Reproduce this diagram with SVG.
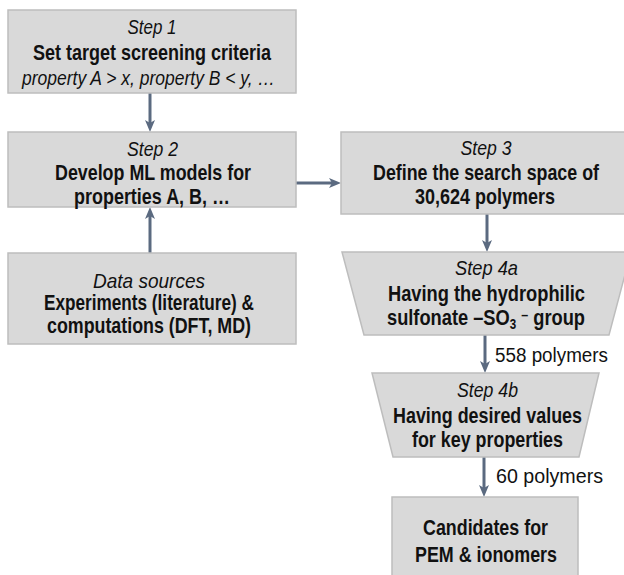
<svg xmlns="http://www.w3.org/2000/svg" width="624" height="575" viewBox="0 0 624 575">
  <defs>
    <style>
      .box { fill: #d9d9d9; stroke: #bdbdbd; stroke-width: 1.5; }
      .t { font-family: "Liberation Sans", Arial, sans-serif; fill: #111; text-anchor: middle; }
      .it { font-style: italic; font-size: 21px; }
      .b { font-weight: bold; font-size: 22px; }
      .lbl { font-family: "Liberation Sans", Arial, sans-serif; fill: #111; font-size: 20px; }
      .conn { stroke: #5b6a80; stroke-width: 3; fill: none; marker-end: url(#ah); }
    </style>
    <marker id="ah" viewBox="0 0 12 10" refX="4" refY="5" markerWidth="12" markerHeight="10" markerUnits="userSpaceOnUse" orient="auto">
      <path d="M0,0 L12,5 L0,10 L3,5 Z" fill="#5b6a80"/>
    </marker>
  </defs>

  <g id="connectors">
    <line class="conn" x1="150" y1="93" x2="150" y2="124"/>
    <line class="conn" x1="150" y1="253" x2="150" y2="215"/>
    <line class="conn" x1="296" y1="183" x2="333" y2="183"/>
    <line class="conn" x1="487" y1="214" x2="487" y2="244"/>
    <line class="conn" x1="485" y1="335" x2="485" y2="365"/>
    <line class="conn" x1="484" y1="457" x2="484" y2="489"/>
    <text class="lbl" x="495" y="361.5" textLength="113" lengthAdjust="spacingAndGlyphs">558 polymers</text>
    <text class="lbl" x="496" y="483" textLength="107" lengthAdjust="spacingAndGlyphs">60 polymers</text>
  </g>

  <g id="step1">
    <rect class="box" x="8" y="10" width="288" height="83"/>
    <text class="t it" x="152" y="34" textLength="49" lengthAdjust="spacingAndGlyphs">Step 1</text>
    <text class="t b" x="152" y="60" textLength="238" lengthAdjust="spacingAndGlyphs">Set target screening criteria</text>
    <text class="t it" x="148.5" y="85" textLength="253" lengthAdjust="spacingAndGlyphs">property A &gt; x, property B &lt; y, …</text>
  </g>

  <g id="step2">
    <rect class="box" x="8" y="132" width="288" height="75"/>
    <text class="t it" x="152.5" y="156" textLength="51" lengthAdjust="spacingAndGlyphs">Step 2</text>
    <text class="t b" x="153" y="180" textLength="196" lengthAdjust="spacingAndGlyphs">Develop ML models for</text>
    <text class="t b" x="152" y="204" textLength="156" lengthAdjust="spacingAndGlyphs">properties A, B, …</text>
  </g>

  <g id="data-sources">
    <rect class="box" x="8" y="253" width="288" height="91"/>
    <text class="t it" x="149" y="288" textLength="112" lengthAdjust="spacingAndGlyphs">Data sources</text>
    <text class="t b" x="149" y="310" textLength="210" lengthAdjust="spacingAndGlyphs">Experiments (literature) &amp;</text>
    <text class="t b" x="149" y="333" textLength="204" lengthAdjust="spacingAndGlyphs">computations (DFT, MD)</text>
  </g>

  <g id="step3">
    <rect class="box" x="341" y="132" width="292" height="82"/>
    <text class="t it" x="486" y="155" textLength="51" lengthAdjust="spacingAndGlyphs">Step 3</text>
    <text class="t b" x="486" y="180" textLength="226" lengthAdjust="spacingAndGlyphs">Define the search space of</text>
    <text class="t b" x="485" y="204" textLength="140" lengthAdjust="spacingAndGlyphs">30,624 polymers</text>
  </g>

  <g id="step4a">
    <polygon class="box" points="342,252 631,252 609,335 364,335"/>
    <text class="t it" x="486.5" y="275" textLength="63" lengthAdjust="spacingAndGlyphs">Step 4a</text>
    <text class="t b" x="486.5" y="301" textLength="197" lengthAdjust="spacingAndGlyphs">Having the hydrophilic</text>
    <text class="t b" x="486" y="325" textLength="198" lengthAdjust="spacingAndGlyphs">sulfonate –SO<tspan font-size="14" baseline-shift="-4">3</tspan> <tspan font-size="15" baseline-shift="5">–</tspan> group</text>
  </g>

  <g id="step4b">
    <polygon class="box" points="372,373 599,373 579,457 393,457"/>
    <text class="t it" x="487.5" y="396.5" textLength="61" lengthAdjust="spacingAndGlyphs">Step 4b</text>
    <text class="t b" x="487.5" y="423" textLength="189" lengthAdjust="spacingAndGlyphs">Having desired values</text>
    <text class="t b" x="487.5" y="447" textLength="151" lengthAdjust="spacingAndGlyphs">for key properties</text>
  </g>

  <g id="candidates">
    <rect class="box" x="392" y="497" width="186" height="85"/>
    <text class="t b" x="485.5" y="535" textLength="125" lengthAdjust="spacingAndGlyphs">Candidates for</text>
    <text class="t b" x="486" y="561.5" textLength="142" lengthAdjust="spacingAndGlyphs">PEM &amp; ionomers</text>
  </g>
</svg>
